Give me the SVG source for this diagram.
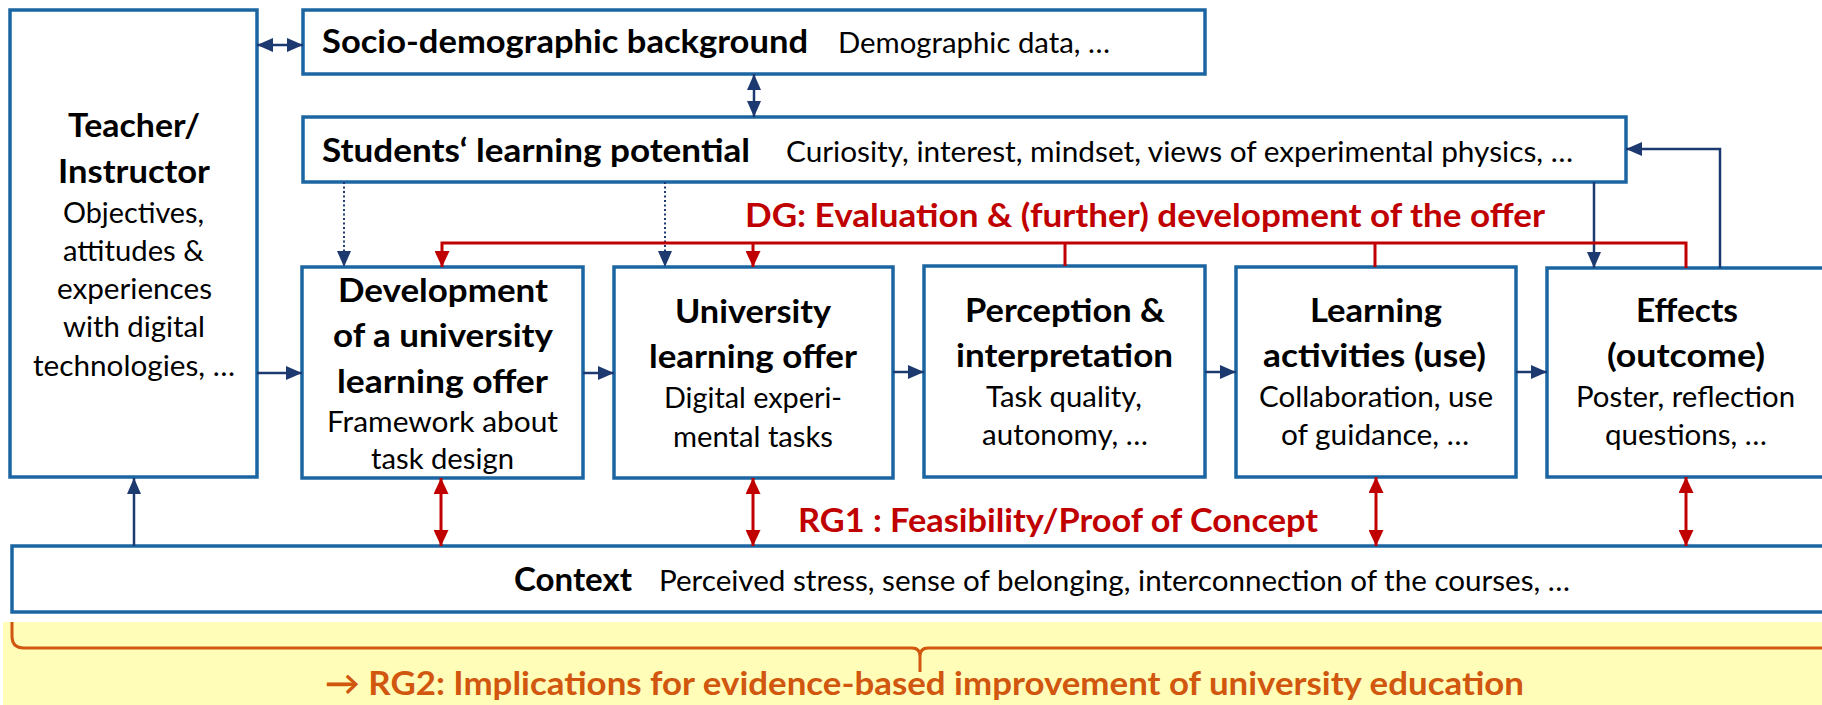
<svg xmlns="http://www.w3.org/2000/svg" width="1822" height="705" viewBox="0 0 1822 705">
<style>
.box{fill:#ffffff;stroke:#1B65A3;stroke-width:3.5}
.t{font-family:Lato,'Liberation Sans',sans-serif;fill:#000000}
.b{font-weight:700;font-size:33px}
.n{font-weight:400;font-size:29px}
.red{fill:#C00000}
.org{fill:#D1560E}
.nav{stroke:#1D3A70;stroke-width:2.5;fill:none}
.dot{stroke:#1D3A70;stroke-width:2;fill:none;stroke-dasharray:2 2.5}
.rl{stroke:#C00000;stroke-width:3;fill:none}
</style>
<defs>
<marker id="an" markerUnits="userSpaceOnUse" markerWidth="16" markerHeight="14" viewBox="0 0 16 14" refX="16" refY="7" orient="auto-start-reverse">
<path d="M0,0 L16,7 L0,14 z" fill="#1D3A70"/>
</marker>
<marker id="ar" markerUnits="userSpaceOnUse" markerWidth="16" markerHeight="15" viewBox="0 0 16 15" refX="16" refY="7.5" orient="auto-start-reverse">
<path d="M0,0 L16,7.5 L0,15 z" fill="#C00000"/>
</marker>
</defs>

<rect id="rg2band" x="3" y="622" width="1830" height="90" fill="#FFFDB8"/>

<g id="teacher">
<rect class="box" x="10" y="10" width="247" height="467"/>
<text class="t b" x="68" y="137" textLength="132" lengthAdjust="spacingAndGlyphs">Teacher/</text>
<text class="t b" x="58" y="183" textLength="152" lengthAdjust="spacingAndGlyphs">Instructor</text>
<text class="t n" x="63" y="223" textLength="141" lengthAdjust="spacingAndGlyphs">Objectives,</text>
<text class="t n" x="63" y="261" textLength="141" lengthAdjust="spacingAndGlyphs">attitudes &amp;</text>
<text class="t n" x="57" y="299" textLength="155" lengthAdjust="spacingAndGlyphs">experiences</text>
<text class="t n" x="63" y="337" textLength="142" lengthAdjust="spacingAndGlyphs">with digital</text>
<text class="t n" x="33" y="376" textLength="202" lengthAdjust="spacingAndGlyphs">technologies, …</text>
</g>

<g id="socio">
<rect class="box" x="303" y="10" width="902" height="64"/>
<text class="t b" x="322" y="53" textLength="486" lengthAdjust="spacingAndGlyphs">Socio-demographic background</text>
<text class="t n" x="838" y="53" textLength="272" lengthAdjust="spacingAndGlyphs">Demographic data, …</text>
</g>

<g id="students">
<rect class="box" x="303" y="117" width="1323" height="65"/>
<text class="t b" x="322" y="162" textLength="428" lengthAdjust="spacingAndGlyphs">Students‘ learning potential</text>
<text class="t n" x="786" y="162" textLength="787" lengthAdjust="spacingAndGlyphs">Curiosity, interest, mindset, views of experimental physics, …</text>
</g>

<g id="development">
<rect class="box" x="302" y="267" width="281" height="211"/>
<text class="t b" x="338" y="302" textLength="210" lengthAdjust="spacingAndGlyphs">Development</text>
<text class="t b" x="333" y="347" textLength="220" lengthAdjust="spacingAndGlyphs">of a university</text>
<text class="t b" x="337" y="393" textLength="211" lengthAdjust="spacingAndGlyphs">learning offer</text>
<text class="t n" x="327" y="432" textLength="231" lengthAdjust="spacingAndGlyphs">Framework about</text>
<text class="t n" x="371" y="469" textLength="143" lengthAdjust="spacingAndGlyphs">task design</text>
</g>

<g id="university">
<rect class="box" x="614" y="267" width="279" height="211"/>
<text class="t b" x="675" y="323" textLength="156" lengthAdjust="spacingAndGlyphs">University</text>
<text class="t b" x="649" y="368" textLength="208" lengthAdjust="spacingAndGlyphs">learning offer</text>
<text class="t n" x="664" y="408" textLength="178" lengthAdjust="spacingAndGlyphs">Digital experi-</text>
<text class="t n" x="673" y="447" textLength="160" lengthAdjust="spacingAndGlyphs">mental tasks</text>
</g>

<g id="perception">
<rect class="box" x="924" y="266" width="281" height="211"/>
<text class="t b" x="965" y="322" textLength="200" lengthAdjust="spacingAndGlyphs">Perception &amp;</text>
<text class="t b" x="956" y="367" textLength="217" lengthAdjust="spacingAndGlyphs">interpretation</text>
<text class="t n" x="986" y="407" textLength="156" lengthAdjust="spacingAndGlyphs">Task quality,</text>
<text class="t n" x="982" y="445" textLength="166" lengthAdjust="spacingAndGlyphs">autonomy, …</text>
</g>

<g id="learning">
<rect class="box" x="1236" y="267" width="280" height="210"/>
<text class="t b" x="1310" y="322" textLength="132" lengthAdjust="spacingAndGlyphs">Learning</text>
<text class="t b" x="1263" y="367" textLength="223" lengthAdjust="spacingAndGlyphs">activities (use)</text>
<text class="t n" x="1259" y="407" textLength="234" lengthAdjust="spacingAndGlyphs">Collaboration, use</text>
<text class="t n" x="1281" y="445" textLength="188" lengthAdjust="spacingAndGlyphs">of guidance, …</text>
</g>

<g id="effects">
<rect class="box" x="1547" y="268" width="300" height="209"/>
<text class="t b" x="1636" y="322" textLength="102" lengthAdjust="spacingAndGlyphs">Effects</text>
<text class="t b" x="1607" y="367" textLength="158" lengthAdjust="spacingAndGlyphs">(outcome)</text>
<text class="t n" x="1576" y="407" textLength="219" lengthAdjust="spacingAndGlyphs">Poster, reflection</text>
<text class="t n" x="1605" y="445" textLength="162" lengthAdjust="spacingAndGlyphs">questions, …</text>
</g>

<g id="context">
<rect class="box" x="12" y="546" width="1830" height="66"/>
<text class="t b" x="514" y="591" textLength="118" lengthAdjust="spacingAndGlyphs">Context</text>
<text class="t n" x="659" y="591" textLength="911" lengthAdjust="spacingAndGlyphs">Perceived stress, sense of belonging, interconnection of the courses, …</text>
</g>

<g id="connectors">
<path class="nav" d="M257,45 H303" marker-start="url(#an)" marker-end="url(#an)"/>
<path class="nav" d="M754,74 V117" marker-start="url(#an)" marker-end="url(#an)"/>
<path class="dot" d="M344,182 V267" marker-end="url(#an)"/>
<path class="dot" d="M665,182 V267" marker-end="url(#an)"/>
<path class="nav" d="M1594,182 V268" marker-end="url(#an)"/>
<path class="nav" d="M1720,268 V149 H1626" marker-end="url(#an)"/>
<path class="nav" d="M257,373 H302" marker-end="url(#an)"/>
<path class="nav" d="M583,373 H614" marker-end="url(#an)"/>
<path class="nav" d="M893,372 H924" marker-end="url(#an)"/>
<path class="nav" d="M1205,372 H1236" marker-end="url(#an)"/>
<path class="nav" d="M1516,372 H1547" marker-end="url(#an)"/>
<path class="nav" d="M134,546 V478" marker-end="url(#an)"/>

<path class="rl" d="M442,267 V243 H1686 V268" marker-start="url(#ar)"/>
<path class="rl" d="M753,243 V267" marker-end="url(#ar)"/>
<path class="rl" d="M1065,243 V266"/>
<path class="rl" d="M1375,243 V267"/>
<path class="rl" d="M441,478 V546" marker-start="url(#ar)" marker-end="url(#ar)"/>
<path class="rl" d="M753,478 V546" marker-start="url(#ar)" marker-end="url(#ar)"/>
<path class="rl" d="M1376,477 V546" marker-start="url(#ar)" marker-end="url(#ar)"/>
<path class="rl" d="M1686,477 V546" marker-start="url(#ar)" marker-end="url(#ar)"/>

<path d="M12,622 V636 Q12,648 24,648 H912 Q920,648 920,656 V672 M920,656 Q920,648 928,648 H1830" fill="none" stroke="#D1560E" stroke-width="3"/>
</g>

<g id="labels">
<text class="t b red" x="745" y="227" textLength="800" lengthAdjust="spacingAndGlyphs">DG: Evaluation &amp; (further) development of the offer</text>
<text class="t b red" x="798" y="532" textLength="520" lengthAdjust="spacingAndGlyphs">RG1 : Feasibility/Proof of Concept</text>
<text class="t b org" x="325" y="695" textLength="1199" lengthAdjust="spacingAndGlyphs">→ RG2: Implications for evidence-based improvement of university education</text>
</g>
</svg>
